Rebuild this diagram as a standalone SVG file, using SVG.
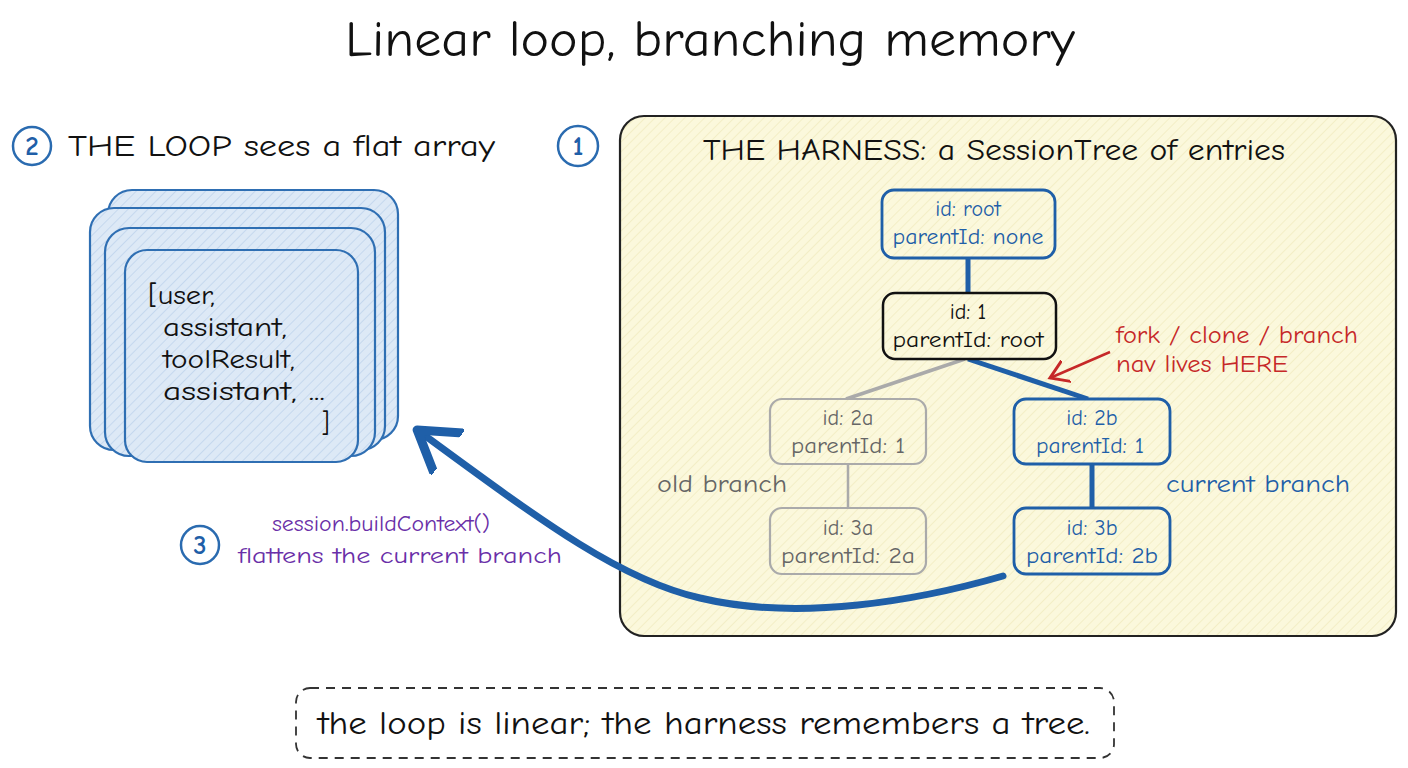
<svg xmlns="http://www.w3.org/2000/svg" width="1408" height="768" viewBox="0 0 1408 768">
<style>
text{font-family:"Comic Neue","Liberation Sans","DejaVu Sans",sans-serif;}
.t{fill:#111;}
.num{fill:none;stroke:#2a6bb0;stroke-width:2.5;}
.numt{fill:#1f5fa8;font-size:27px;text-anchor:middle;font-weight:bold;}
.card{fill:url(#hb);stroke:#2f6fb3;stroke-width:2.2;}
.nb{fill:url(#hy);stroke:#1f5fa8;stroke-width:2.8;}
.nk{fill:url(#hy);stroke:#111;stroke-width:2.5;}
.ng{fill:url(#hy);stroke:#aaa;stroke-width:2.2;}
.tb{fill:#1f5fa8;font-size:22px;text-anchor:middle;}
.tk{fill:#111;font-size:22px;text-anchor:middle;}
.tg{fill:#666;font-size:22px;text-anchor:middle;}
</style>
<defs>
<pattern id="hb" width="7" height="7" patternUnits="userSpaceOnUse" patternTransform="rotate(45)">
<rect width="7" height="7" fill="#dde9f6"/>
<line x1="0" y1="0" x2="0" y2="7" stroke="#b9d0ea" stroke-width="1.3"/>
</pattern>
<pattern id="hy" width="7" height="7" patternUnits="userSpaceOnUse" patternTransform="rotate(45)">
<rect width="7" height="7" fill="#fbf8dc"/>
<line x1="0" y1="0" x2="0" y2="7" stroke="#efe8b8" stroke-width="1.2"/>
</pattern>
<marker id="bigarrow" markerWidth="8" markerHeight="8" refX="5" refY="4" orient="auto" markerUnits="strokeWidth">
<path d="M0,0.5 L5.5,4 L0,7.5" fill="none" stroke="#1f5fa8" stroke-width="1.3" stroke-linecap="round" stroke-linejoin="round"/>
</marker>
<marker id="redarrow" markerWidth="10" markerHeight="10" refX="7" refY="5" orient="auto" markerUnits="strokeWidth">
<path d="M0,0.5 L7,5 L0,9.5" fill="none" stroke="#c62828" stroke-width="1.2" stroke-linecap="round"/>
</marker>
</defs>
<rect width="1408" height="768" fill="#ffffff"/>

<text x="345" y="56" class="t" font-size="50" textLength="730" lengthAdjust="spacingAndGlyphs">Linear loop, branching memory</text>

<g id="label-loop">
<circle cx="32" cy="146" r="19" class="num"/>
<text x="32" y="155" class="numt">2</text>
<text x="68" y="156" class="t" font-size="30" textLength="427" lengthAdjust="spacingAndGlyphs">THE LOOP sees a flat array</text>
</g>

<g id="loop-array">
<rect x="108" y="190" width="290" height="250" rx="24" class="card"/>
<rect x="90" y="208" width="295" height="242" rx="24" class="card"/>
<rect x="105" y="228" width="270" height="228" rx="24" class="card"/>
<rect x="125" y="250" width="233" height="212" rx="22" class="card"/>
<text x="148" y="304" class="t" font-size="27" textLength="67" lengthAdjust="spacingAndGlyphs">[user,</text>
<text x="163" y="336" class="t" font-size="27" textLength="124" lengthAdjust="spacingAndGlyphs">assistant,</text>
<text x="163" y="368" class="t" font-size="27" textLength="132" lengthAdjust="spacingAndGlyphs">toolResult,</text>
<text x="163" y="400" class="t" font-size="27" textLength="162" lengthAdjust="spacingAndGlyphs">assistant, ...</text>
<text x="321" y="432" class="t" font-size="27">]</text>
</g>

<g id="harness">
<circle cx="578" cy="146" r="20" class="num"/>
<text x="578" y="155" class="numt">1</text>
<rect x="620" y="116" width="776" height="520" rx="24" fill="url(#hy)" stroke="#222" stroke-width="2.2"/>
<text x="703" y="160" class="t" font-size="30" textLength="582" lengthAdjust="spacingAndGlyphs">THE HARNESS: a SessionTree of entries</text>
</g>

<g id="connectors">
<line x1="968" y1="258" x2="968" y2="293" stroke="#1f5fa8" stroke-width="5"/>
<line x1="965" y1="359" x2="846" y2="399" stroke="#aaa" stroke-width="3.5"/>
<line x1="968" y1="359" x2="1088" y2="399" stroke="#1f5fa8" stroke-width="5"/>
<line x1="848" y1="464" x2="848" y2="508" stroke="#aaa" stroke-width="2.5"/>
<line x1="1092" y1="464" x2="1092" y2="508" stroke="#1f5fa8" stroke-width="5"/>
<path d="M1110,352 L1050,378" fill="none" stroke="#c62828" stroke-width="2.5" marker-end="url(#redarrow)"/>
<path d="M1003,576 C920,600 800,622 700,598 C620,580 540,520 420,432" fill="none" stroke="#1f5fa8" stroke-width="7" stroke-linecap="round" marker-end="url(#bigarrow)"/>
</g>

<g id="node-root">
<rect x="882" y="190" width="173" height="68" rx="12" class="nb"/>
<text x="968" y="216" class="tb">id: root</text>
<text x="968" y="244" class="tb" textLength="151" lengthAdjust="spacingAndGlyphs">parentId: none</text>
</g>
<g id="node-1">
<rect x="883" y="293" width="173" height="66" rx="12" class="nk"/>
<text x="968" y="319" class="tk">id: 1</text>
<text x="968" y="347" class="tk" textLength="151" lengthAdjust="spacingAndGlyphs">parentId: root</text>
</g>
<g id="node-2a">
<rect x="770" y="399" width="156" height="65" rx="12" class="ng"/>
<text x="848" y="425" class="tg">id: 2a</text>
<text x="848" y="453" class="tg" textLength="114" lengthAdjust="spacingAndGlyphs">parentId: 1</text>
</g>
<g id="node-2b">
<rect x="1014" y="399" width="156" height="65" rx="12" class="nb"/>
<text x="1092" y="425" class="tb">id: 2b</text>
<text x="1090" y="453" class="tb" textLength="108" lengthAdjust="spacingAndGlyphs">parentId: 1</text>
</g>
<g id="node-3a">
<rect x="770" y="508" width="156" height="66" rx="12" class="ng"/>
<text x="848" y="535" class="tg">id: 3a</text>
<text x="848" y="563" class="tg" textLength="134" lengthAdjust="spacingAndGlyphs">parentId: 2a</text>
</g>
<g id="node-3b">
<rect x="1014" y="508" width="156" height="66" rx="12" class="nb"/>
<text x="1092" y="535" class="tb">id: 3b</text>
<text x="1092" y="563" class="tb" textLength="132" lengthAdjust="spacingAndGlyphs">parentId: 2b</text>
</g>

<g id="labels">
<text x="1116" y="343" fill="#c62828" font-size="24" textLength="242" lengthAdjust="spacingAndGlyphs">fork / clone / branch</text>
<text x="1116" y="372" fill="#c62828" font-size="24" textLength="172" lengthAdjust="spacingAndGlyphs">nav lives HERE</text>
<text x="657" y="492" fill="#666" font-size="24" textLength="130" lengthAdjust="spacingAndGlyphs">old branch</text>
<text x="1166" y="492" fill="#1f5fa8" font-size="24" textLength="184" lengthAdjust="spacingAndGlyphs">current branch</text>
</g>

<g id="label-build">
<circle cx="200" cy="545" r="19" class="num"/>
<text x="200" y="554" class="numt">3</text>
<text x="272" y="531" fill="#6a2fa8" font-size="23" textLength="218" lengthAdjust="spacingAndGlyphs">session.buildContext()</text>
<text x="238" y="563" fill="#6a2fa8" font-size="23" textLength="324" lengthAdjust="spacingAndGlyphs">flattens the current branch</text>
</g>

<g id="caption">
<rect x="296" y="688" width="818" height="70" rx="14" fill="#fff" stroke="#333" stroke-width="1.8" stroke-dasharray="9 7"/>
<text x="318" y="734" class="t" font-size="32" textLength="772" lengthAdjust="spacingAndGlyphs">the loop is linear; the harness remembers a tree.</text>
</g>
</svg>
